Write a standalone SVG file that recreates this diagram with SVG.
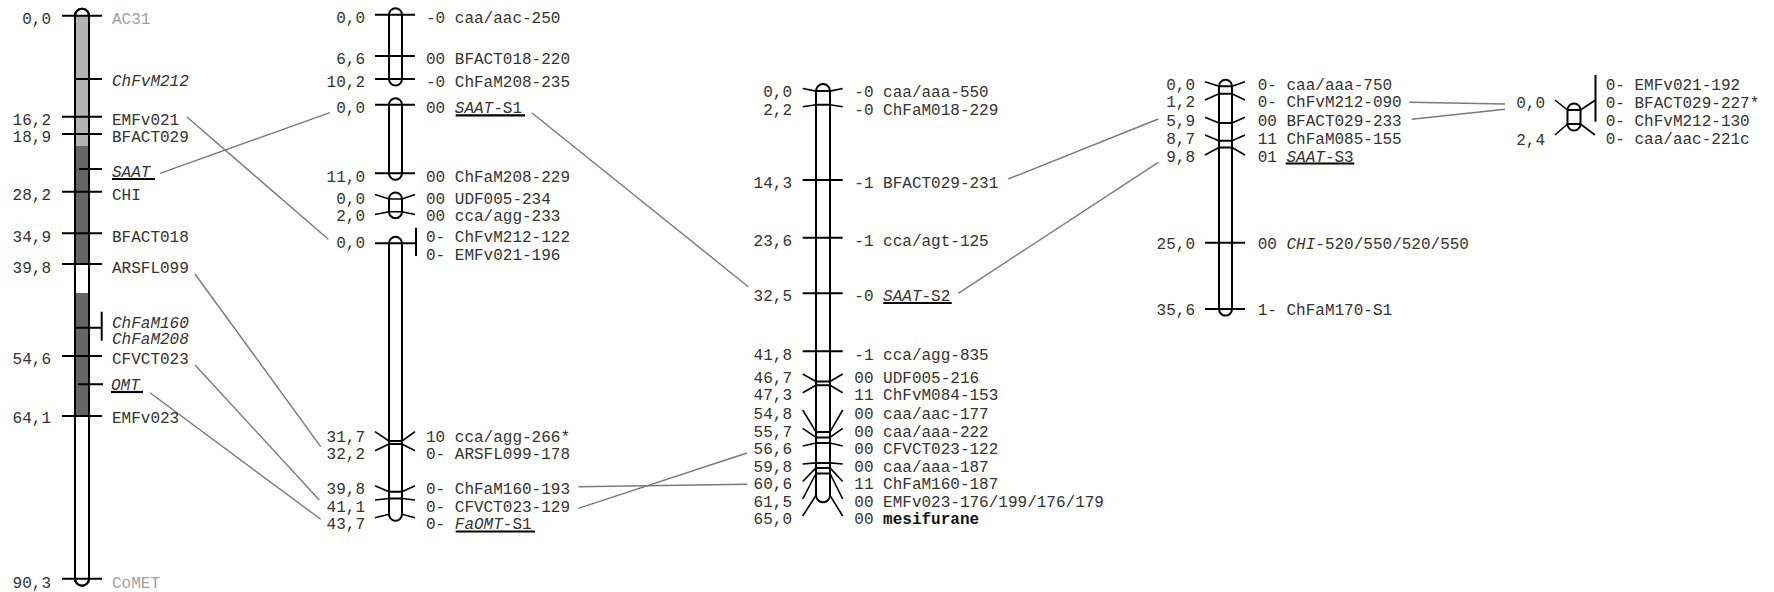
<svg xmlns="http://www.w3.org/2000/svg" width="1774" height="592" viewBox="0 0 1774 592">
<style>
.t{font-family:"Liberation Mono","Courier New",monospace;font-size:16px;fill:#333}
.p{text-anchor:end}
.g{fill:#a0a0a0}
.i{font-style:italic}
.b{font-weight:bold;fill:#111}
.bar{fill:#fff;stroke:#000;stroke-width:2}
.bo{fill:none;stroke:#000;stroke-width:2}
.tk{stroke:#000;stroke-width:2;fill:none}
.fn{stroke:#000;stroke-width:1.6;fill:none}
.ul{stroke:#000;stroke-width:2.2}
.cn{stroke:#7a7a7a;stroke-width:1.4;fill:none}
</style>
<rect width="1774" height="592" fill="#fff"/>
<g id="connectors">
<path class="cn" d="M160,173.3 L330,112.7"/>
<path class="cn" d="M186.7,116.7 L328.3,239.3"/>
<path class="cn" d="M195,274 L320.7,446.7"/>
<path class="cn" d="M195,365 L319.3,500"/>
<path class="cn" d="M150,392.7 L320.7,519.3"/>
<path class="cn" d="M531.7,112.7 L748.3,286.7"/>
<path class="cn" d="M578.3,486.7 L747,484.3"/>
<path class="cn" d="M578.3,508.3 L747,453"/>
<path class="cn" d="M1008.3,179 L1158.3,119"/>
<path class="cn" d="M958.3,293.3 L1158.3,162.3"/>
<path class="cn" d="M1409.3,102.3 L1505,104"/>
<path class="cn" d="M1411.7,119.3 L1505,109.3"/>
</g>
<g id="chr1">
<path class="bar" d="M75,15.7 A7,7 0 0 1 89,15.7 L89,578.7 A7,7 0 0 1 75,578.7 Z"/>
<rect x="75" y="15.7" width="14" height="130.3" fill="#b3b3b3"/>
<rect x="75" y="146" width="14" height="118" fill="#656565"/>
<rect x="75" y="293" width="14" height="123" fill="#656565"/>
<path class="bo" d="M75,15.7 A7,7 0 0 1 89,15.7 L89,578.7 A7,7 0 0 1 75,578.7 Z"/>
<path class="tk" d="M62,15.7H102 M75,79H102 M62,116.7H102 M62,134H102 M79,169H102 M62,191.7H102 M62,233.3H102 M62,264H102 M75,327.7H101.7 M101.7,311.7V340.7 M62,356H102 M78,384.3H103 M62,416H102 M62,578.7H102"/>
<text class="t p" x="51" y="24">0,0</text>
<text class="t p" x="51" y="125">16,2</text>
<text class="t p" x="51" y="141.7">18,9</text>
<text class="t p" x="51" y="200">28,2</text>
<text class="t p" x="51" y="241.7">34,9</text>
<text class="t p" x="51" y="272.7">39,8</text>
<text class="t p" x="51" y="364">54,6</text>
<text class="t p" x="51" y="423.3">64,1</text>
<text class="t p" x="51" y="587.7">90,3</text>
<text class="t g" x="112" y="24">AC31</text>
<text class="t i" x="112" y="86">ChFvM212</text>
<text class="t" x="112" y="125">EMFv021</text>
<text class="t" x="112" y="141.7">BFACT029</text>
<text class="t i" x="112" y="176.7">SAAT</text>
<line class="ul" x1="112" y1="179" x2="155" y2="179"/>
<text class="t" x="112" y="200">CHI</text>
<text class="t" x="112" y="241.7">BFACT018</text>
<text class="t" x="112" y="272.7">ARSFL099</text>
<text class="t i" x="112" y="327.5">ChFaM160</text>
<text class="t i" x="112" y="344">ChFaM208</text>
<text class="t" x="112" y="364">CFVCT023</text>
<text class="t i" x="111" y="390">OMT</text>
<line class="ul" x1="111" y1="392" x2="143" y2="392"/>
<text class="t" x="112" y="423.3">EMFv023</text>
<text class="t g" x="112" y="587.7">CoMET</text>
</g>
<g id="chr2">
<path class="bar" d="M389,14.7 A6.5,6.5 0 0 1 402,14.7 L402,79 A6.5,6.5 0 0 1 389,79 Z"/>
<path class="bar" d="M389,104.7 A6.5,6.5 0 0 1 402,104.7 L402,173.3 A6.5,6.5 0 0 1 389,173.3 Z"/>
<path class="bar" d="M389,199 A6.5,6.5 0 0 1 402,199 L402,211.7 A6.5,6.5 0 0 1 389,211.7 Z"/>
<path class="bar" d="M389,243.3 A6.5,6.5 0 0 1 402,243.3 L402,514.3 A6.5,6.5 0 0 1 389,514.3 Z"/>
<path class="tk" d="M375,14.7H415 M375,56H415 M375,79H415 M375,104.7H415 M375,173.3H415 M375,243.3H416 M416,227.7V256 M389,441H402 M389,444H402 M389,491.7H402 M389,498.5H402"/>
<path class="fn" d="M375,194.5 L389,199 H402 L415,194.5 M375,214.5 L389,211.7 H402 L415,214.5 M375,431.7 L389,441 M402,441 L415,431.7 M375,450.7 L389,444 M402,444 L415,450.7 M375,485.7 L389,491.7 M402,491.7 L415,485.7 M375,500 L389,498.5 M402,498.5 L415,500 M375,517.7 L389,514.3 M402,514.3 L415,517.7"/>
<text class="t p" x="365" y="23.3">0,0</text>
<text class="t p" x="365" y="64">6,6</text>
<text class="t p" x="365" y="87">10,2</text>
<text class="t p" x="365" y="113">0,0</text>
<text class="t p" x="365" y="181.5">11,0</text>
<text class="t p" x="365" y="204">0,0</text>
<text class="t p" x="365" y="220.5">2,0</text>
<text class="t p" x="365" y="248.3">0,0</text>
<text class="t p" x="365" y="441.7">31,7</text>
<text class="t p" x="365" y="459.3">32,2</text>
<text class="t p" x="365" y="494.3">39,8</text>
<text class="t p" x="365" y="511.7">41,1</text>
<text class="t p" x="365" y="529.3">43,7</text>
<text class="t" x="426" y="23.3">-0 caa/aac-250</text>
<text class="t" x="426" y="64">00 BFACT018-220</text>
<text class="t" x="426" y="87">-0 ChFaM208-235</text>
<text class="t" x="426" y="113">00 <tspan class="i">SAAT</tspan>-S1</text>
<line class="ul" x1="455.7" y1="115.3" x2="525" y2="115.3"/>
<text class="t" x="426" y="181.5">00 ChFaM208-229</text>
<text class="t" x="426" y="204">00 UDF005-234</text>
<text class="t" x="426" y="220.5">00 cca/agg-233</text>
<text class="t" x="426" y="242.3">0- ChFvM212-122</text>
<text class="t" x="426" y="260">0- EMFv021-196</text>
<text class="t" x="426" y="441.7">10 cca/agg-266*</text>
<text class="t" x="426" y="459.3">0- ARSFL099-178</text>
<text class="t" x="426" y="494.3">0- ChFaM160-193</text>
<text class="t" x="426" y="511.7">0- CFVCT023-129</text>
<text class="t" x="426" y="529.3">0- <tspan class="i">FaOMT</tspan>-S1</text>
<line class="ul" x1="455.7" y1="531.5" x2="535" y2="531.5"/>
</g>
<g id="chr3">
<path class="bar" d="M816,91.1 A7,7 0 0 1 830,91.1 L830,495.3 A7,7 0 0 1 816,495.3 Z"/>
<path class="tk" d="M802.7,180H842.7 M802.7,237.8H842.7 M802.7,293.2H842.7 M802.7,351.3H842.7 M816,91.1H830 M816,104.8H830 M816,381.5H830 M816,385.2H830 M816,431.9H830 M816,437.4H830 M816,443H830 M816,462.9H830 M816,467.9H830 M816,473.5H830"/>
<path class="fn" d="M802.7,88.5 L816,91.1 M830,91.1 L842.7,88.5 M802.7,106.7 L816,104.8 M830,104.8 L842.7,106.7 M802.7,374 L816,381.5 M830,381.5 L842.7,374 M802.7,392.7 L816,385.2 M830,385.2 L842.7,392.7 M802.7,410 L816,431.9 M830,431.9 L842.7,410 M802.7,428.3 L816,437.4 M830,437.4 L842.7,428.3 M802.7,446 L816,443 M830,443 L842.7,446 M802.7,464 L816,462.9 M830,462.9 L842.7,464 M802.7,481.5 L816,467.9 M830,467.9 L842.7,481.5 M802.7,499 L816,473.5 M830,473.5 L842.7,499 M802.7,516 L816,495.3 M830,495.3 L842.7,516"/>
<text class="t p" x="792" y="96.7">0,0</text>
<text class="t p" x="792" y="115">2,2</text>
<text class="t p" x="792" y="188">14,3</text>
<text class="t p" x="792" y="245.5">23,6</text>
<text class="t p" x="792" y="301">32,5</text>
<text class="t p" x="792" y="359.5">41,8</text>
<text class="t p" x="792" y="382.7">46,7</text>
<text class="t p" x="792" y="400">47,3</text>
<text class="t p" x="792" y="419">54,8</text>
<text class="t p" x="792" y="436.5">55,7</text>
<text class="t p" x="792" y="454">56,6</text>
<text class="t p" x="792" y="471.5">59,8</text>
<text class="t p" x="792" y="489">60,6</text>
<text class="t p" x="792" y="506.5">61,5</text>
<text class="t p" x="792" y="524">65,0</text>
<text class="t" x="854.3" y="96.7">-0 caa/aaa-550</text>
<text class="t" x="854.3" y="115">-0 ChFaM018-229</text>
<text class="t" x="854.3" y="188">-1 BFACT029-231</text>
<text class="t" x="854.3" y="245.5">-1 cca/agt-125</text>
<text class="t" x="854.3" y="301">-0 <tspan class="i">SAAT</tspan>-S2</text>
<line class="ul" x1="883.3" y1="303" x2="951.7" y2="303"/>
<text class="t" x="854.3" y="359.5">-1 cca/agg-835</text>
<text class="t" x="854.3" y="382.7">00 UDF005-216</text>
<text class="t" x="854.3" y="400">11 ChFvM084-153</text>
<text class="t" x="854.3" y="419">00 caa/aac-177</text>
<text class="t" x="854.3" y="436.5">00 caa/aaa-222</text>
<text class="t" x="854.3" y="454">00 CFVCT023-122</text>
<text class="t" x="854.3" y="471.5">00 caa/aaa-187</text>
<text class="t" x="854.3" y="489">11 ChFaM160-187</text>
<text class="t" x="854.3" y="506.5">00 EMFv023-176/199/176/179</text>
<text class="t" x="854.3" y="524">00 <tspan class="b">mesifurane</tspan></text>
</g>
<g id="chr4">
<path class="bar" d="M1219,86.2 A6.5,6.5 0 0 1 1232,86.2 L1232,309.1 A6.5,6.5 0 0 1 1219,309.1 Z"/>
<path class="tk" d="M1205,242.7H1245 M1205,309.1H1245 M1219,86.2H1232 M1219,93.7H1232 M1219,123.1H1232 M1219,140.7H1232 M1219,147.5H1232"/>
<path class="fn" d="M1205,81.7 L1219,86.2 M1232,86.2 L1245,81.7 M1205,100 L1219,93.7 M1232,93.7 L1245,100 M1205,117.3 L1219,123.1 M1232,123.1 L1245,117.3 M1205,135 L1219,140.7 M1232,140.7 L1245,135 M1205,155 L1219,147.5 M1232,147.5 L1245,155"/>
<text class="t p" x="1195" y="90">0,0</text>
<text class="t p" x="1195" y="107.3">1,2</text>
<text class="t p" x="1195" y="125.7">5,9</text>
<text class="t p" x="1195" y="144">8,7</text>
<text class="t p" x="1195" y="161.5">9,8</text>
<text class="t p" x="1195" y="249">25,0</text>
<text class="t p" x="1195" y="315">35,6</text>
<text class="t" x="1257.7" y="90">0- caa/aaa-750</text>
<text class="t" x="1257.7" y="107.3">0- ChFvM212-090</text>
<text class="t" x="1257.7" y="125.7">00 BFACT029-233</text>
<text class="t" x="1257.7" y="144">11 ChFaM085-155</text>
<text class="t" x="1257.7" y="161.5">01 <tspan class="i">SAAT</tspan>-S3</text>
<line class="ul" x1="1285.7" y1="163.5" x2="1354.3" y2="163.5"/>
<text class="t" x="1257.7" y="249">00 <tspan class="i">CHI</tspan>-520/550/520/550</text>
<text class="t" x="1257.7" y="315">1- ChFaM170-S1</text>
</g>
<g id="chr5">
<path class="bar" d="M1567.5,110 A6.5,6.5 0 0 1 1580.5,110 L1580.5,124 A6.5,6.5 0 0 1 1567.5,124 Z"/>
<path class="tk" d="M1567.5,110H1580.5 M1567.5,124H1580.5 M1595.5,75V121.7"/>
<path class="fn" d="M1555,100 L1567.5,110 M1580.5,110 L1595.5,100 M1555,135 L1567.5,124 M1580.5,124 L1595,135"/>
<text class="t p" x="1545" y="108.3">0,0</text>
<text class="t p" x="1545" y="145">2,4</text>
<text class="t" x="1605.7" y="90">0- EMFv021-192</text>
<text class="t" x="1605.7" y="108.3">0- BFACT029-227*</text>
<text class="t" x="1605.7" y="126">0- ChFvM212-130</text>
<text class="t" x="1605.7" y="144">0- caa/aac-221c</text>
</g>
</svg>
